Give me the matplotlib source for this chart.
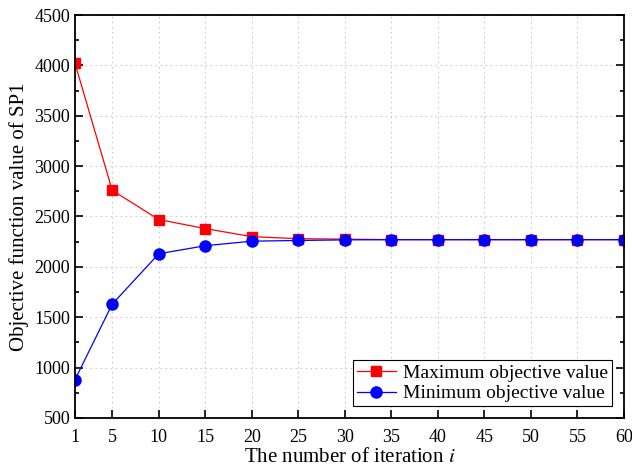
import numpy as np
import matplotlib.pyplot as plt
from matplotlib.ticker import MultipleLocator

plt.rcParams['font.family'] = ['Liberation Serif', 'DejaVu Serif']
plt.rcParams['mathtext.fontset'] = 'stix'

# data
iters = [1, 5, 10, 15, 20, 25, 30, 35, 40, 45, 50, 55, 60]
max_obj = [4020, 2760, 2470, 2380, 2300, 2280, 2275, 2270, 2270, 2270, 2270, 2270, 2270]
min_obj = [880, 1630, 2130, 2210, 2255, 2262, 2268, 2270, 2270, 2270, 2270, 2270, 2270]
xticks = [1, 5, 10, 15, 20, 25, 30, 35, 40, 45, 50, 55, 60]

fig = plt.figure(figsize=(6.32, 4.68), dpi=100)
ax = fig.add_axes([75/632, 50/468, 549/632, 403/468])

ax.plot(iters, max_obj, c='red', lw=0.9, marker='s', ms=7, label='Maximum objective value')
ax.plot(iters, min_obj, c='blue', lw=0.9, marker='o', ms=8, label='Minimum objective value')

ax.set_xlim(1, 60)
ax.set_ylim(500, 4500)
ax.set_xticks(xticks)
ax.yaxis.set_major_locator(MultipleLocator(500))
ax.yaxis.set_minor_locator(MultipleLocator(250))
ax.grid(True, ls=(0, (1.5, 3)), c='#cccccc', lw=0.8)
ax.set_axisbelow(True)

ax.tick_params(which='both', direction='in', left=True, right=True, top=False,
               labelsize=13, width=1.2)
ax.tick_params(which='major', length=6)
ax.tick_params(which='minor', length=3)
ax.tick_params(axis='x', pad=8)
for s in ax.spines.values():
    s.set_linewidth(1.3)

ax.set_xlabel(r'The number of iteration $i$', fontsize=15, labelpad=1)
ax.set_ylabel('Objective function value of SP1', fontsize=15, labelpad=4)

leg = ax.legend(loc='lower right', fontsize=14, fancybox=False, framealpha=1,
                edgecolor='black', borderpad=0.2, labelspacing=0.15,
                handlelength=2.0, handletextpad=0.4, borderaxespad=0.6)
leg.get_frame().set_linewidth(0.8)

plt.savefig('out.png', dpi=100)
